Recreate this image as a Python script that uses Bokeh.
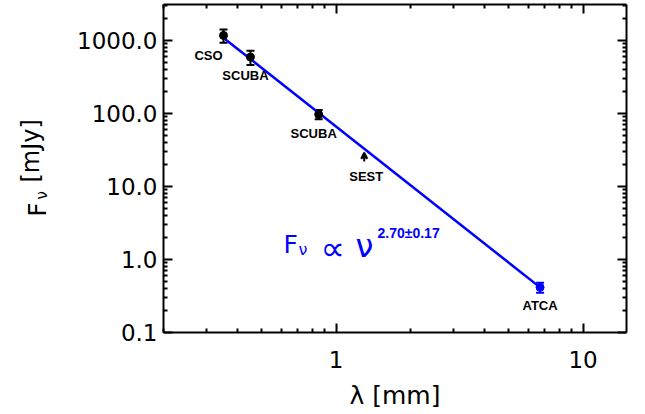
import numpy as np
from bokeh.plotting import figure
from bokeh.models import (FixedTicker, LogAxis, Label, Whisker, ColumnDataSource,
                          Range1d, TeeHead, Arrow, VeeHead)
from bokeh.embed import file_html
from bokeh.resources import INLINE

# ---------------- data ----------------
instruments = ["CSO", "SCUBA", "SCUBA", "ATCA"]
wavelength_mm = [0.35, 0.45, 0.85, 6.7]
flux_mJy = [1170, 590, 97, 0.415]
flux_err = [240, 130, 14, 0.065]
point_colors = ["black", "black", "black", "blue"]

limit_instrument = ["SEST"]
limit_wavelength = [1.3]
limit_flux = [22]
limit_flux_tip = [29]

fit_wavelength = [0.34, 6.7]
fit_flux = [1170, 0.415]

x_major_ticks = [1, 10]
x_minor_ticks = [0.2, 0.3, 0.4, 0.5, 0.6, 0.7, 0.8, 0.9, 2, 3, 4, 5, 6, 7, 8, 9]
x_tick_labels = {1: "1", 10: "10"}
y_major_ticks = [0.1, 1, 10, 100, 1000]
y_minor_ticks = [0.2, 0.3, 0.4, 0.5, 0.6, 0.7, 0.8, 0.9,
                 2, 3, 4, 5, 6, 7, 8, 9,
                 20, 30, 40, 50, 60, 70, 80, 90,
                 200, 300, 400, 500, 600, 700, 800, 900, 2000, 3000]
y_tick_labels = {0.1: "0.1", 1: "1.0", 10: "10.0", 100: "100.0", 1000: "1000.0"}

# ---------------- figure ----------------
TICK_FONT = "DejaVu Sans"
p = figure(width=637, height=412,
           x_axis_type="log", y_axis_type="log",
           x_range=Range1d(0.2, 15), y_range=Range1d(0.1, 3100),
           output_backend="svg", toolbar_location=None,
           min_border_left=163, min_border_right=11,
           min_border_top=4, min_border_bottom=79)
p.xgrid.visible = False
p.ygrid.visible = False
p.outline_line_color = None
p.background_fill_color = "white"

def style_axis(ax, ticks, minor, labels, show_labels):
    ax.ticker = FixedTicker(ticks=ticks, minor_ticks=minor)
    ax.axis_line_width = 2
    ax.axis_line_color = "black"
    ax.major_tick_line_width = 2
    ax.major_tick_line_color = "black"
    ax.minor_tick_line_width = 2
    ax.minor_tick_line_color = "black"
    ax.major_tick_in = 9
    ax.major_tick_out = 0
    ax.minor_tick_in = 4
    ax.minor_tick_out = 0
    if show_labels:
        ax.major_label_overrides = labels
        ax.major_label_text_font = TICK_FONT
        ax.major_label_text_font_size = "23px"
        ax.major_label_text_color = "black"
    else:
        ax.major_label_text_font_size = "1px"
        ax.major_label_text_alpha = 0
        ax.major_label_standoff = 0

style_axis(p.xaxis[0], x_major_ticks, x_minor_ticks, x_tick_labels, True)
style_axis(p.yaxis[0], y_major_ticks, y_minor_ticks, y_tick_labels, True)
p.xaxis[0].major_label_standoff = 18
p.yaxis[0].major_label_standoff = 6
p.xaxis[0].axis_label = "\u03bb [mm]"
p.xaxis[0].axis_label_text_font = TICK_FONT
p.xaxis[0].axis_label_text_font_size = "25px"
p.xaxis[0].axis_label_text_font_style = "normal"
p.xaxis[0].axis_label_text_color = "black"
p.xaxis[0].axis_label_standoff = 10

top_axis = LogAxis()
style_axis(top_axis, x_major_ticks, x_minor_ticks, None, False)
p.add_layout(top_axis, "above")
right_axis = LogAxis()
style_axis(right_axis, y_major_ticks, y_minor_ticks, None, False)
p.add_layout(right_axis, "right")

# ---------------- fit line ----------------
p.line(fit_wavelength, fit_flux, line_color="blue", line_width=2.5)

# ---------------- error bars & points ----------------
upper = [f + e for f, e in zip(flux_mJy, flux_err)]
lower = [f - e for f, e in zip(flux_mJy, flux_err)]
src = ColumnDataSource(dict(x=wavelength_mm, y=flux_mJy, upper=upper, lower=lower,
                            color=point_colors))
w = Whisker(source=src, base="x", upper="upper", lower="lower",
            line_color="color", line_width=2,
            upper_head=TeeHead(size=8, line_width=2, line_color="color"),
            lower_head=TeeHead(size=8, line_width=2, line_color="color"))
p.add_layout(w)
p.scatter("x", "y", source=src, size=8, fill_color="color", line_color="color")

# upper limit arrow (SEST)
for lx, ly0, ly1 in zip(limit_wavelength, limit_flux, limit_flux_tip):
    p.add_layout(Arrow(x_start=lx, y_start=ly0, x_end=lx, y_end=ly1,
                       line_width=2, line_color="black",
                       end=VeeHead(size=6, line_width=2, line_color="black")))

# ---------------- point labels ----------------
label_dx = [-15, -5, -5, 0]
label_dy = [-20, -18, -19, -18]
for name, lx, ly, dx, dy in zip(instruments, wavelength_mm, flux_mJy, label_dx, label_dy):
    p.add_layout(Label(x=lx, y=ly, text=name, x_offset=dx, y_offset=dy,
                       text_font="Liberation Sans", text_font_style="bold",
                       text_font_size="13px", text_color="black",
                       text_align="center", text_baseline="middle"))
for name, lx, ly in zip(limit_instrument, limit_wavelength, limit_flux):
    p.add_layout(Label(x=lx, y=ly, text=name, x_offset=2, y_offset=-15,
                       text_font="Liberation Sans", text_font_style="bold",
                       text_font_size="13px", text_color="black",
                       text_align="center", text_baseline="middle"))

# ---------------- text helper ----------------
def slabel(text, sx, sy, size, color="black", style="normal", angle=0.0,
           font=TICK_FONT, place=None):
    lab = Label(x=sx, y=sy, x_units="screen", y_units="screen", text=text,
                text_font=font, text_font_size=size, text_color=color,
                text_font_style=style, angle=angle,
                text_align="left", text_baseline="alphabetic")
    if place is None:
        p.add_layout(lab)
    else:
        p.add_layout(lab, place)

# ---------------- y-axis label (F_nu [mJy]) in the left panel ----------------
half_pi = np.pi / 2
slabel("F", -9, 116, "24px", angle=half_pi, place="left")
slabel("\u03bd", 13, 133, "15px", angle=half_pi, place="left")
slabel("[mJy]", 30, 150, "24px", angle=half_pi, place="left")

# ---------------- formula ----------------
slabel("F", 120, 88, "25px", color="blue")
slabel("\u03bd", 135, 83, "16px", color="blue")
slabel("\u221d", 157, 85, "34px", color="blue")
slabel("\u03bd", 192, 87, "32px", color="blue")
slabel("2.70\u00b10.17", 214, 100, "14px", color="blue", style="bold", font="Liberation Sans")

open("out.html", "w").write(file_html(p, INLINE))
